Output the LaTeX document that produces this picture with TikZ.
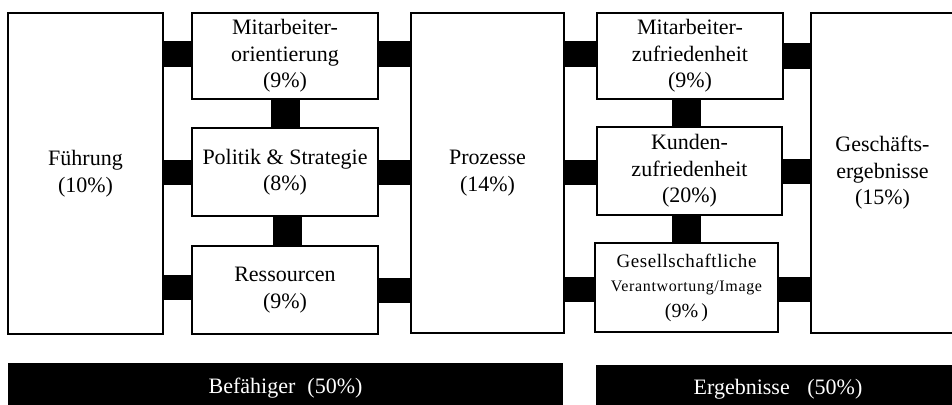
\documentclass[tikz,border=0pt]{standalone}
\usepackage{fontspec}
\setmainfont{Liberation Serif}
\begin{document}
\begin{tikzpicture}[x=1pt,y=-1pt,
  box/.style={draw=black,line width=2.5pt,fill=white,inner sep=0pt,align=center,
    font=\fontsize{22}{26.5}\selectfont},
  bar/.style={fill=black,inner sep=0pt,text=white,font=\fontsize{22}{25}\selectfont},
  hconn/.style={line width=25pt,black},
  vconn/.style={line width=29pt,black}]
\useasboundingbox (0,0) rectangle (952,404);
\clip (0,0) rectangle (952,404);
% enablers
\node[box,minimum width=155pt,minimum height=321pt] (fue) at (85.5,173.5) {Führung\\(10\%)};
\node[box,minimum width=186pt,minimum height=86pt] (ma) at (285,56) {Mitarbeiter-\\orientierung\\(9\%)};
\node[box,minimum width=186pt,minimum height=88pt] (pol) at (285,172) {Politik \& Strategie\\(8\%)};
\node[box,minimum width=186pt,minimum height=88pt] (res) at (285,290) {Ressourcen\\(9\%)};
\node[box,minimum width=153pt,minimum height=320pt] (pro) at (487.5,173) {Prozesse\\(14\%)};
% results
\node[box,minimum width=186pt,minimum height=86pt] (mz) at (690,56) {Mitarbeiter-\\zufriedenheit\\(9\%)};
\node[box,minimum width=185pt,minimum height=88pt] (kz) at (689.5,171) {Kunden-\\zufriedenheit\\(20\%)};
\node[box,minimum width=183pt,minimum height=89pt] (ge) at (686.5,287.5)
  {{\fontsize{19}{23}\selectfont\addfontfeature{LetterSpace=3}Gesellschaftliche}\\[-2pt]
   {\fontsize{16}{22}\selectfont\addfontfeature{LetterSpace=4}Verantwortung/Image}\\[-1pt]
   {\fontsize{20}{23}\selectfont (9\%\,)}};
\node[box,minimum width=143pt,minimum height=320pt] (gs) at (882.5,173) {Geschäfts-\\ergebnisse\\(15\%)};
% bars
\node[bar,minimum width=555pt,minimum height=50pt] (bef) at (285.5,388) {Befähiger\hspace{0.55em}(50\%)};
\node[bar,minimum width=364pt,minimum height=48pt] (erg) at (778,389) {Ergebnisse\hspace{0.8em}(50\%)};
% horizontal connectors
\draw[hconn] ([yshift=2pt]fue.east |- ma.west) -- ([yshift=2pt]ma.west);
\draw[hconn] (fue.east |- pol.west) -- (pol.west);
\draw[hconn] ([yshift=2.5pt]fue.east |- res.west) -- ([yshift=2.5pt]res.west);
\draw[hconn] ([yshift=2pt]ma.east) -- ([yshift=2pt]pro.west |- ma.east);
\draw[hconn] (pol.east) -- (pro.west |- pol.east);
\draw[hconn] (res.east) -- (pro.west |- res.east);
\draw[hconn] ([yshift=2pt]pro.east |- mz.west) -- ([yshift=2pt]mz.west);
\draw[hconn] ([yshift=-1.5pt]pro.east |- kz.west) -- ([yshift=-1.5pt]kz.west);
\draw[hconn] ([yshift=-1.5pt]pro.east |- ge.west) -- ([yshift=-1.5pt]ge.west);
\draw[hconn] (mz.east) -- (gs.west |- mz.east);
\draw[hconn] (kz.east) -- (gs.west |- kz.east);
\draw[hconn] ([yshift=-2pt]ge.east) -- ([yshift=-2pt]gs.west |- ge.east);
% vertical connectors
\draw[vconn] (ma.south) -- (ma.south |- pol.north);
\draw[vconn] ([xshift=2.5pt]pol.south) -- ([xshift=2.5pt]pol.south |- res.north);
\draw[vconn] ([xshift=-3.5pt]mz.south) -- ([xshift=-3.5pt]mz.south |- kz.north);
\draw[vconn] (ge.north |- kz.south) -- (ge.north);
\end{tikzpicture}
\end{document}
